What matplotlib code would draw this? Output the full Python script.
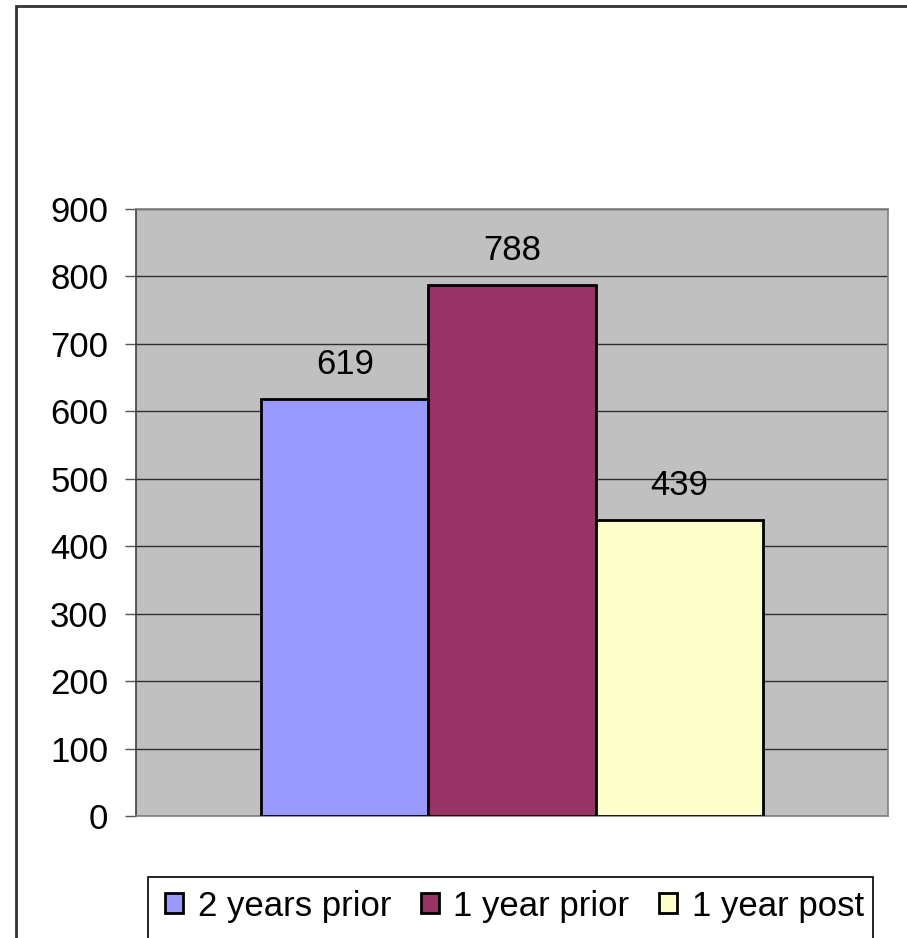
import matplotlib
matplotlib.use("Agg")
import matplotlib.pyplot as plt
from matplotlib.patches import Rectangle, Patch

plt.rcParams['font.family'] = ['Liberation Sans', 'DejaVu Sans']

series = ["2 years prior", "1 year prior", "1 year post"]
values = [619, 788, 439]
colors = ["#9999FF", "#993366", "#FFFFCC"]
yticks = [0, 100, 200, 300, 400, 500, 600, 700, 800, 900]

FS = 25
W, H = 907, 938
fig = plt.figure(figsize=(W / 100, H / 100), dpi=100)
fig.patch.set_facecolor("white")

# outer chart frame (runs off the right and bottom edges)
fig.patches.append(Rectangle((16 / W, -0.1), 1.2, (H - 6) / H + 0.1,
                             transform=fig.transFigure, facecolor="none",
                             edgecolor="#333333", linewidth=2.0, zorder=0))

left, right, top, bottom = 136, 888, 209, 816
ax = fig.add_axes([left / W, (H - bottom) / H, (right - left) / W, (bottom - top) / H])
ax.set_facecolor("#C0C0C0")

n = len(values)
gap = 1.5
bw = 1.0 / (n + gap)
offsets = [(-0.5 + gap * bw / 2 + bw * (i + 0.5)) for i in range(n)]

for i, (v, c) in enumerate(zip(values, colors)):
    ax.bar(offsets[i], v, width=bw, color=c, edgecolor="black",
           linewidth=2.0, zorder=3, label=series[i])
    ax.annotate(f"{v}", xy=(offsets[i], v), xytext=(0, 18),
                textcoords="offset points", ha="center", va="baseline",
                fontsize=FS, color="black", zorder=4)

ax.set_xlim(-0.5, 0.5)
ax.set_ylim(0, 900)
ax.set_yticks(yticks)
ax.set_yticklabels([str(t) for t in yticks])
ax.set_xticks([])
ax.yaxis.grid(True, color="#2e2e2e", linewidth=1.0, zorder=1)
ax.set_axisbelow(True)
ax.tick_params(axis="y", direction="out", length=8, width=1.0,
               color="#555555", pad=12, labelsize=FS)

ax.spines["left"].set_color("#404040")
ax.spines["left"].set_linewidth(1.2)
for s in ("right", "top", "bottom"):
    ax.spines[s].set_color("#808080")
    ax.spines[s].set_linewidth(1.2)

# legend frame (runs off the bottom edge)
fig.patches.append(Rectangle((148 / W, -0.1), (873 - 148) / W, (H - 877) / H + 0.1,
                             transform=fig.transFigure, facecolor="white",
                             edgecolor="black", linewidth=1.2, zorder=1))

handles = [Patch(facecolor=c, edgecolor="black", linewidth=2.0) for c in colors]
fig.legend(handles, series, loc="center left",
           bbox_to_anchor=(165 / W, (H - 906) / H), ncol=3, frameon=False,
           fontsize=FS, handlelength=0.52, handleheight=0.52,
           handletextpad=0.42, columnspacing=0.85, borderpad=0, borderaxespad=0)

fig.savefig("out.png", dpi=100, facecolor="white")
